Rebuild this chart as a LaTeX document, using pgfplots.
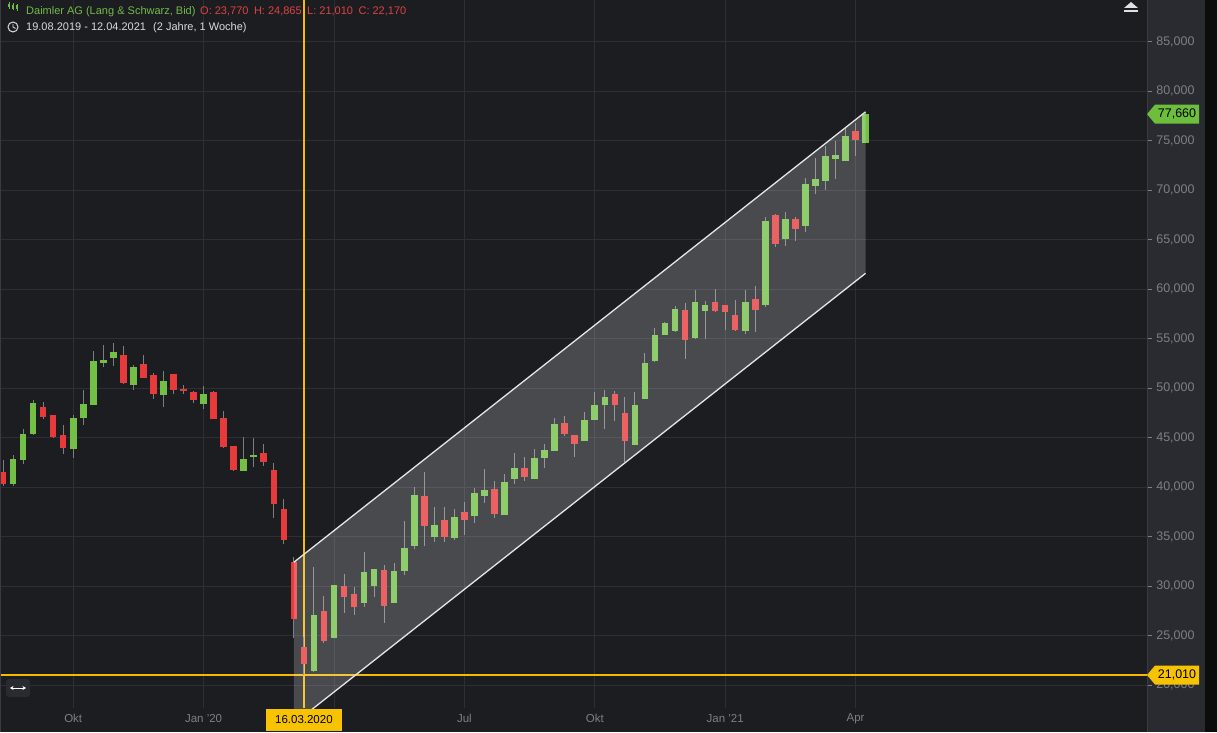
\documentclass[border=0pt]{standalone}
\usepackage{fontspec}
\setmainfont{Liberation Sans}
\usepackage{pgfplots}
\usepackage{pgfplotstable}
\pgfplotsset{compat=1.18}
\usetikzlibrary{arrows.meta}

\definecolor{bg}{RGB}{28,29,33}
\definecolor{gridc}{RGB}{46,47,53}
\definecolor{panel}{RGB}{42,43,48}
\definecolor{strip}{RGB}{12,12,13}
\definecolor{sepc}{RGB}{58,59,65}
\definecolor{upc}{RGB}{116,192,70}
\definecolor{downc}{RGB}{232,58,58}
\definecolor{wickc}{RGB}{125,125,125}
\definecolor{labc}{RGB}{126,127,132}
\definecolor{chy}{RGB}{245,185,0}
\definecolor{datebox}{RGB}{247,195,0}
\definecolor{tagg}{RGB}{109,190,60}
\definecolor{hgreen}{RGB}{114,186,72}
\definecolor{hred}{RGB}{223,66,66}
\definecolor{htext}{RGB}{218,218,218}
\definecolor{chanline}{RGB}{230,230,230}

% weekly candles, week 0 = 19.08.2019
\pgfplotstableread{
w o h l c
1 40300 43200 40100 42800
2 42800 45850 42350 45300
3 45400 48800 45300 48400
7 43900 47250 42950 46950
8 47000 49750 46300 48350
9 48300 53750 48250 52700
10 52550 54350 52150 52800
11 53050 54500 52250 53550
13 50350 52300 49750 52100
16 49300 51700 48100 50700
20 48400 50200 47850 49400
24 41700 45100 41600 42750
25 43100 45000 42050 43200
31 21450 31900 21300 27050
33 24800 30150 24750 30100
36 28300 33450 27900 31400
37 30050 31750 28900 31700
39 28300 32300 28250 31500
40 31550 36550 31100 33750
41 34050 39950 33750 39200
43 35000 38000 34400 36150
45 34850 37750 34600 36900
47 37100 39950 36350 39350
48 39100 41800 38400 39700
50 37250 41300 37200 40450
51 40800 43400 40300 41900
53 40850 43800 40800 42900
54 42950 44300 41900 43700
55 43700 46950 43650 46350
58 44700 47550 44650 46750
59 46850 49550 46800 48200
60 48350 49800 45850 49050
63 44300 49550 44250 48200
64 48950 53500 48900 52500
65 52750 56050 52650 55350
66 55400 56650 55350 56550
67 55800 58300 55700 57950
69 55100 59900 55000 58650
70 57800 58800 55000 58300
74 55800 59950 55500 58650
76 58450 67300 58200 66850
78 65100 67800 64350 67050
80 66450 71250 65800 70550
81 70400 73250 69600 71100
82 70900 74450 69950 73350
83 73150 74900 71100 73450
84 72950 76300 72900 75450
86 74800 77900 74700 77660
}\uptab

\pgfplotstableread{
w o h l c
0 41500 42700 40100 40300
4 48050 48600 46900 47100
5 47250 47300 44900 45100
6 45200 46250 43350 44000
12 53250 54250 50400 50500
14 52400 53350 51000 51050
15 51300 51550 48850 49400
17 51400 51450 49400 49800
18 49850 50300 49350 49750
19 49600 49700 48500 48800
21 49600 49700 46850 46900
22 46950 47700 43950 44050
23 44100 44150 41650 41750
26 43400 44350 42100 42550
27 41700 42400 36850 38300
28 37750 38750 34200 34700
29 32400 32900 24700 26750
30 23770 24865 21010 22170
32 27450 28950 24200 24500
34 30000 31200 27250 28900
35 29200 29950 27050 27900
38 31600 32100 26300 28000
42 39100 41550 34050 36150
44 36650 38000 34450 34950
46 37450 38500 35150 36700
49 39800 40600 36850 37300
52 41900 43000 40650 41050
56 46450 47150 45200 45400
57 45200 45250 43050 44400
61 49350 49700 46700 48350
62 47450 49050 42550 44700
68 57800 58550 52900 54900
71 58650 60000 57700 57800
72 58300 58350 55850 57700
73 57350 58900 55750 55850
75 58950 60300 55700 57950
77 67450 67550 64250 64600
79 67050 67300 64800 66150
85 75950 76800 73450 75050
}\downtab

\newcommand\hf{\fontsize{11}{13}\selectfont}
\newcommand\lf{\fontsize{11.5}{13}\selectfont}
\newcommand\yf{\fontsize{12.5}{14}\selectfont}

\begin{document}
\begin{tikzpicture}[x=1pt,y=1pt]
\path[use as bounding box] (0,-24) rectangle (1217,708);
\fill[bg] (0,-24) rectangle (1217,708);
\fill[panel] (1147,-24) rectangle (1205,708);
\fill[strip] (1205,-24) rectangle (1217,708);

\begin{axis}[
  at={(0,0)}, anchor=south west,
  scale only axis, width=1147pt, height=708pt,
  xmin=-0.3, xmax=114.06, ymin=17677, ymax=89192,
  axis line style={draw=none},
  grid=major, major grid style={draw=gridc, line width=0.8pt},
  xtick={7,20,33,46,59,72,85},
  xticklabels={Okt,Jan '20,,Jul,Okt,Jan '21,Apr},
  xtick pos=bottom, xtick align=inside,
  xtick style={/pgfplots/major tick length=0pt},
  xticklabel style={anchor=center, yshift=-10.5pt, font=\lf, text=labc},
  ytick={20000,25000,...,85000},
  scaled y ticks=false,
  ytick pos=right, yticklabel pos=right, ytick align=outside,
  ytick style={draw=labc, line width=0.6pt, /pgfplots/major tick length=5pt},
  yticklabel style={anchor=west, xshift=1.5pt, font=\yf, text=labc,
    /pgf/number format/fixed, /pgf/number format/1000 sep={,}, /pgf/number format/assume math mode=true},
]
% crosshair (beneath the candles)
\addplot[draw=chy, color=chy, line width=1.1pt, forget plot] coordinates {(-0.3,21010) (114.06,21010)};
\addplot[draw=chy, color=chy, line width=1.6pt, forget plot] coordinates {(30,17677) (30,89192)};
% wicks
\addplot[draw=none, mark=none, forget plot,
  error bars/.cd, y dir=both, y explicit, error mark=none,
  error bar style={draw=wickc, solid, line width=1pt}]
  table[x=w, y expr={(\thisrow{h}+\thisrow{l})/2}, y error expr={(\thisrow{h}-\thisrow{l})/2}] {\uptab};
\addplot[draw=none, mark=none, forget plot,
  error bars/.cd, y dir=both, y explicit, error mark=none,
  error bar style={draw=wickc, solid, line width=1pt}]
  table[x=w, y expr={(\thisrow{h}+\thisrow{l})/2}, y error expr={(\thisrow{h}-\thisrow{l})/2}] {\downtab};
% bodies
\addplot[draw=none, mark=none, forget plot,
  error bars/.cd, y dir=both, y explicit, error mark=none,
  error bar style={draw=upc, solid, line width=6.6pt}]
  table[x=w, y expr={(\thisrow{o}+\thisrow{c})/2}, y error expr={abs(\thisrow{c}-\thisrow{o})/2+40}] {\uptab};
\addplot[draw=none, mark=none, forget plot,
  error bars/.cd, y dir=both, y explicit, error mark=none,
  error bar style={draw=downc, solid, line width=6.6pt}]
  table[x=w, y expr={(\thisrow{o}+\thisrow{c})/2}, y error expr={abs(\thisrow{c}-\thisrow{o})/2+40}] {\downtab};
% trend channel
\addplot[draw=none, fill=white, fill opacity=0.2, forget plot] coordinates {(29,32400) (86,77900) (86,61585) (29,16099) (29,32400)};
\addplot[draw=chanline, color=chanline, line width=1.3pt, forget plot] coordinates {(29,32400) (86,77900)};
\addplot[draw=chanline, color=chanline, line width=1.3pt, forget plot] coordinates {(29,16099) (86,61585)};
\coordinate (cx) at (axis cs:30,17677);
\coordinate (t1) at (axis cs:114.06,77660);
\coordinate (t2) at (axis cs:114.06,21010);
\end{axis}

\draw[sepc, line width=0.8pt] (1147,-24) -- (1147,708);
\draw[sepc, line width=0.8pt] (0.5,-24) -- (0.5,708);
\fill[datebox] ([xshift=-38pt,yshift=-23pt]cx) rectangle ([xshift=38pt,yshift=-0.5pt]cx);
\node[anchor=center, text=black, font=\lf, inner sep=0pt] at ([yshift=-12pt]cx) {16.03.2020};

% price tags
\fill[tagg] (t1) -- ++(8,9.5) -- ++(44,0) -- ++(0,-19) -- ++(-44,0) -- cycle;
\node[anchor=center, text=black, font=\yf, inner sep=0pt] at ([xshift=30pt]t1) {77,660};
\fill[datebox] (t2) -- ++(8,9.5) -- ++(44,0) -- ++(0,-19) -- ++(-44,0) -- cycle;
\node[anchor=center, text=black, font=\yf, inner sep=0pt] at ([xshift=30pt]t2) {21,010};

% header
\begin{scope}[hgreen, line width=0.8pt]
  \draw (9,699) -- (9,706); \fill (8,700.5) rectangle (10,704);
  \draw (13,698) -- (13,705); \fill (12,699) rectangle (14,703);
  \draw (17,697) -- (17,704); \fill (16,698.5) rectangle (18,702.5);
\end{scope}
\node[anchor=base west, inner sep=0pt, text=hgreen, font=\hf] at (26,693) {Daimler AG (Lang \& Schwarz, Bid)};
\node[anchor=base west, inner sep=0pt, text=hred, font=\hf] at (200,693) {O: 23,770\enspace H: 24,865\enspace L: 21,010\enspace C: 22,170};
\draw[htext, line width=1pt] (13,681) circle (5);
\draw[htext, line width=0.9pt] (13,684) -- (13,681) -- (15.5,679.5);
\node[anchor=base west, inner sep=0pt, text=htext, font=\hf] at (26,677) {19.08.2019 - 12.04.2021};
\node[anchor=base west, inner sep=0pt, text=htext, font=\hf] at (153,677) {(2 Jahre, 1 Woche)};

% bottom-left scroll icon
\fill[panel, rounded corners=3pt] (6,11) rectangle (30,29);
\draw[white, line width=1pt, {Stealth[length=3.5pt,width=4pt]}-{Stealth[length=3.5pt,width=4pt]}] (10,20) -- (26,20);

% top-right icon
\fill[htext!85] (1131,706) -- (1138,700) -- (1124,700) -- cycle;
\fill[htext!85] (1124,696) rectangle (1138,698);
\end{tikzpicture}
\end{document}
